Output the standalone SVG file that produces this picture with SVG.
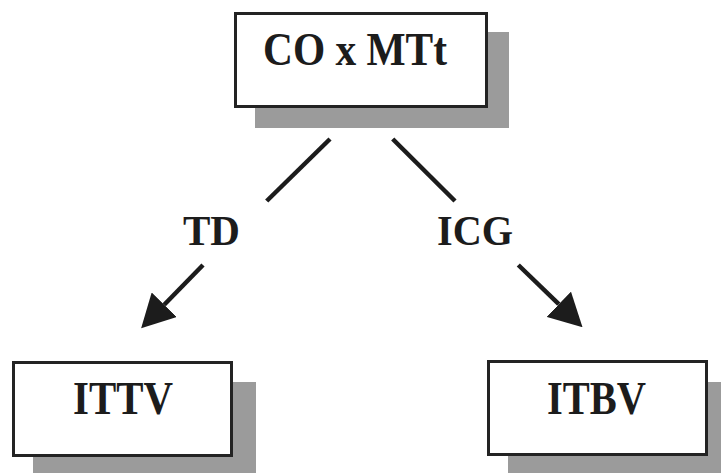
<svg xmlns="http://www.w3.org/2000/svg" width="721" height="473" viewBox="0 0 721 473">
<style>
.shadow{fill:#9b9b9b}
.box{fill:#fff;stroke:#232323;stroke-width:3}
.lbl{font-family:"Liberation Serif","Times New Roman",serif;font-weight:bold;fill:#1c1c1c;text-anchor:middle}
.big{font-size:46px}
.edge{font-size:43px}
.con{stroke:#1c1c1c;stroke-width:4.5;fill:none}
</style>
<defs>
<marker id="ah" markerUnits="userSpaceOnUse" viewBox="0 0 33 35" refX="0" refY="17.5" markerWidth="33" markerHeight="35" orient="auto">
<path d="M0,0 L33,17.5 L0,35 z" fill="#1c1c1c"/>
</marker>
</defs>
<rect width="721" height="473" fill="#fff"/>
<g id="node-co">
<rect class="shadow" x="255" y="32" width="254" height="96"/>
<rect class="box" x="235.5" y="13.5" width="251" height="93"/>
<text class="lbl big" x="355" y="65" textLength="184" lengthAdjust="spacingAndGlyphs">CO x MTt</text>
</g>
<g id="node-ittv">
<rect class="shadow" x="33" y="382" width="223" height="96"/>
<rect class="box" x="13.5" y="362.5" width="218" height="93"/>
<text class="lbl big" x="123" y="414" textLength="100" lengthAdjust="spacingAndGlyphs">ITTV</text>
</g>
<g id="node-itbv">
<rect class="shadow" x="508" y="382" width="223" height="96"/>
<rect class="box" x="488.5" y="361.5" width="218" height="93"/>
<text class="lbl big" x="596.5" y="414" textLength="99" lengthAdjust="spacingAndGlyphs">ITBV</text>
</g>
<g id="connectors">
<line class="con" x1="330" y1="139" x2="266.7" y2="201"/>
<line class="con" x1="392.7" y1="139" x2="455" y2="201"/>
<line class="con" x1="203" y1="265" x2="164.2" y2="304.7" marker-end="url(#ah)"/>
<line class="con" x1="518.3" y1="265" x2="558.8" y2="304.2" marker-end="url(#ah)"/>
<text class="lbl edge" x="211.5" y="245" textLength="57" lengthAdjust="spacingAndGlyphs">TD</text>
<text class="lbl edge" x="475" y="245" textLength="76" lengthAdjust="spacingAndGlyphs">ICG</text>
</g>
</svg>
